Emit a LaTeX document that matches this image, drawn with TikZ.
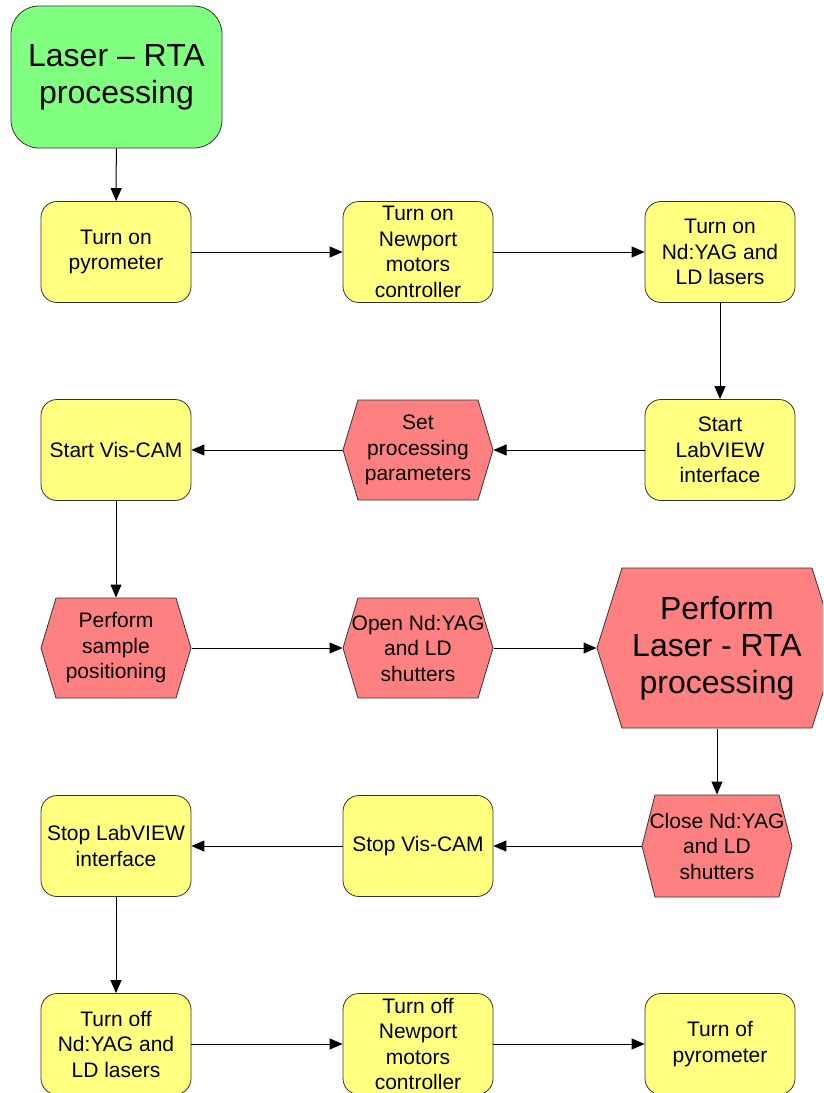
\documentclass[tikz,border=0pt]{standalone}
\usepackage{fontspec}
\setmainfont{Liberation Sans}
\usetikzlibrary{arrows.meta}
\definecolor{startgreen}{HTML}{80FF80}
\definecolor{taskyellow}{HTML}{FFFF80}
\definecolor{actred}{HTML}{FF8080}
\newcommand\bigtext{\fontsize{32}{37}\selectfont}
% hexagonal action step: [node opts]{name}{centre}{half width}{half height}{bevel}{text}
\newcommand\hexact[7][]{%
  \begin{scope}[shift={(#3)}]
    \filldraw[fill=actred,draw=black!80,line width=0.8pt]
      (-#4,0) -- (-#4+#6,-#5) -- (#4-#6,-#5) -- (#4,0)
      -- (#4-#6,#5) -- (-#4+#6,#5) -- cycle;
  \end{scope}
  \node[inner sep=0,minimum width=2*#4,minimum height=2*#5,align=center,#1] (#2) at (#3) {#7};}

\begin{document}
\begin{tikzpicture}[x=1pt,y=-1pt,line width=1pt,>={Triangle[length=13pt,width=11pt]},
  font=\fontsize{21}{25.5}\selectfont,
  task/.style={rectangle,rounded corners=16pt,fill=taskyellow,draw=black!80,line width=0.8pt,
    minimum width=150pt,minimum height=101pt,inner sep=0,align=center},
  start/.style={task,fill=startgreen,rounded corners=28pt,minimum width=211pt,
    minimum height=142pt,font=\bigtext}]
\clip (0,0) rectangle (823,1093);

\node[start] (go) at (116.5,77) {Laser – RTA\\processing};

% switching on
\node[task] (pyro)   at (116,252) {Turn on\\pyrometer};
\node[task] (motors) at (418,252) {Turn on\\Newport\\motors\\controller};
\node[task] (lasers) at (720,252) {Turn on\\Nd:YAG and\\LD lasers};

\node[task] (labview) at (720,450) {Start\\LabVIEW\\interface};
\hexact{params}{418,450}{75}{50}{15}{Set\\processing\\parameters}
\node[task] (viscam) at (116,450) {Start Vis-CAM};

% processing
\hexact{sample}{116,648}{75}{50}{15}{Perform\\sample\\positioning}
\hexact{open}{418,648}{75}{50}{15}{Open Nd:YAG\\and LD\\shutters}
\hexact[font=\bigtext]{rta}{717,648}{120}{80}{25}{Perform\\Laser - RTA\\processing}

% switching off
\hexact{close}{717,846}{75}{51}{13}{Close Nd:YAG\\and LD\\shutters}
\node[task] (stopcam) at (418,846) {Stop Vis-CAM};
\node[task] (stoplab) at (116,846) {Stop LabVIEW\\interface};

\node[task] (offlasers) at (116,1044) {Turn off\\Nd:YAG and\\LD lasers};
\node[task] (offmotors) at (418,1044) {Turn off\\Newport\\motors\\controller};
\node[task] (offpyro)   at (720,1044) {Turn of\\pyrometer};

\draw[->] (go) -- (pyro);
\draw[->] (pyro) -- (motors);
\draw[->] (motors) -- (lasers);
\draw[->] (lasers) -- (labview);
\draw[->] (labview) -- (params);
\draw[->] (params) -- (viscam);
\draw[->] (viscam) -- (sample);
\draw[->] (sample) -- (open);
\draw[->] (open) -- (rta);
\draw[->] (rta) -- (close);
\draw[->] (close) -- (stopcam);
\draw[->] (stopcam) -- (stoplab);
\draw[->] (stoplab) -- (offlasers);
\draw[->] (offlasers) -- (offmotors);
\draw[->] (offmotors) -- (offpyro);
\end{tikzpicture}
\end{document}
